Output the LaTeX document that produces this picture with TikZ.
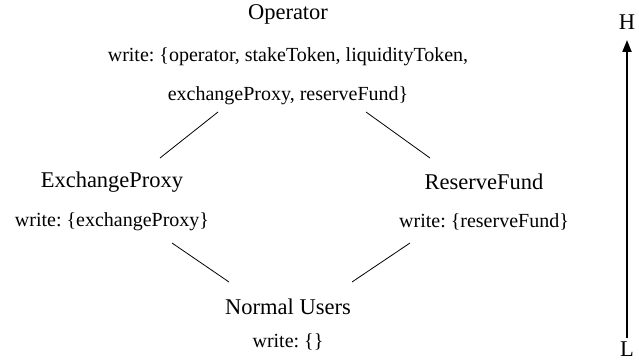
\documentclass[tikz,border=0pt]{standalone}
\usepackage{fontspec}
\setmainfont{Liberation Serif}
\usetikzlibrary{arrows.meta}
\frenchspacing

\begin{document}
\begin{tikzpicture}
        [   x = 1pt
        ,   y = 1pt
        ,   role/.style =
            {   font = \fontsize{22.5}{27}\selectfont
            ,   inner sep = 0pt
            }
        ,   perm/.style =
            {   font = \fontsize{20}{24}\selectfont
            ,   inner sep = 0pt
            }
        ,   link/.style =
            {   line width = 0.8pt
            }
        ]
        \useasboundingbox (0,0) rectangle (639,362);
        % roles and what they may write
        \node[role] (op) at (288,348) {Operator};
        \node[perm] (opa) at (288,305) {write: \{operator, stakeToken, liquidityToken,};
        \node[perm] (opb) at (288,266) {exchangeProxy, reserveFund\}};
        \node[role] (ep) at (112,180) {ExchangeProxy};
        \node[perm] (epw) at (112,140) {write: \{exchangeProxy\}};
        \node[role] (rf) at (484,180) {ReserveFund};
        \node[perm] (rfw) at (484,140) {write: \{reserveFund\}};
        \node[role] (nu) at (288,55) {Normal Users};
        \node[perm] (nuw) at (288,20) {write: \{\}};
        % line ends
        \coordinate (op-l) at (218,250);
        \coordinate (op-r) at (366,250);
        \coordinate (ep-t) at (160,204);
        \coordinate (rf-t) at (430,204);
        \coordinate (ep-b) at (172,119);
        \coordinate (rf-b) at (410,119);
        \coordinate (nu-l) at (229,80);
        \coordinate (nu-r) at (352,80);
        \draw[link] (op-l) -- (ep-t);
        \draw[link] (op-r) -- (rf-t);
        \draw[link] (ep-b) -- (nu-l);
        \draw[link] (rf-b) -- (nu-r);
        % level axis
        \node[role] (hi) at (627,340) {H};
        \node[role] (lo) at (627,13) {L};
        \coordinate (axis-lo) at (627,24);
        \coordinate (axis-hi) at (627,322);
        \draw[line width = 2pt, -{Triangle[length=12pt, width=9pt]}]
            (axis-lo) -- (axis-hi);
\end{tikzpicture}
\end{document}
